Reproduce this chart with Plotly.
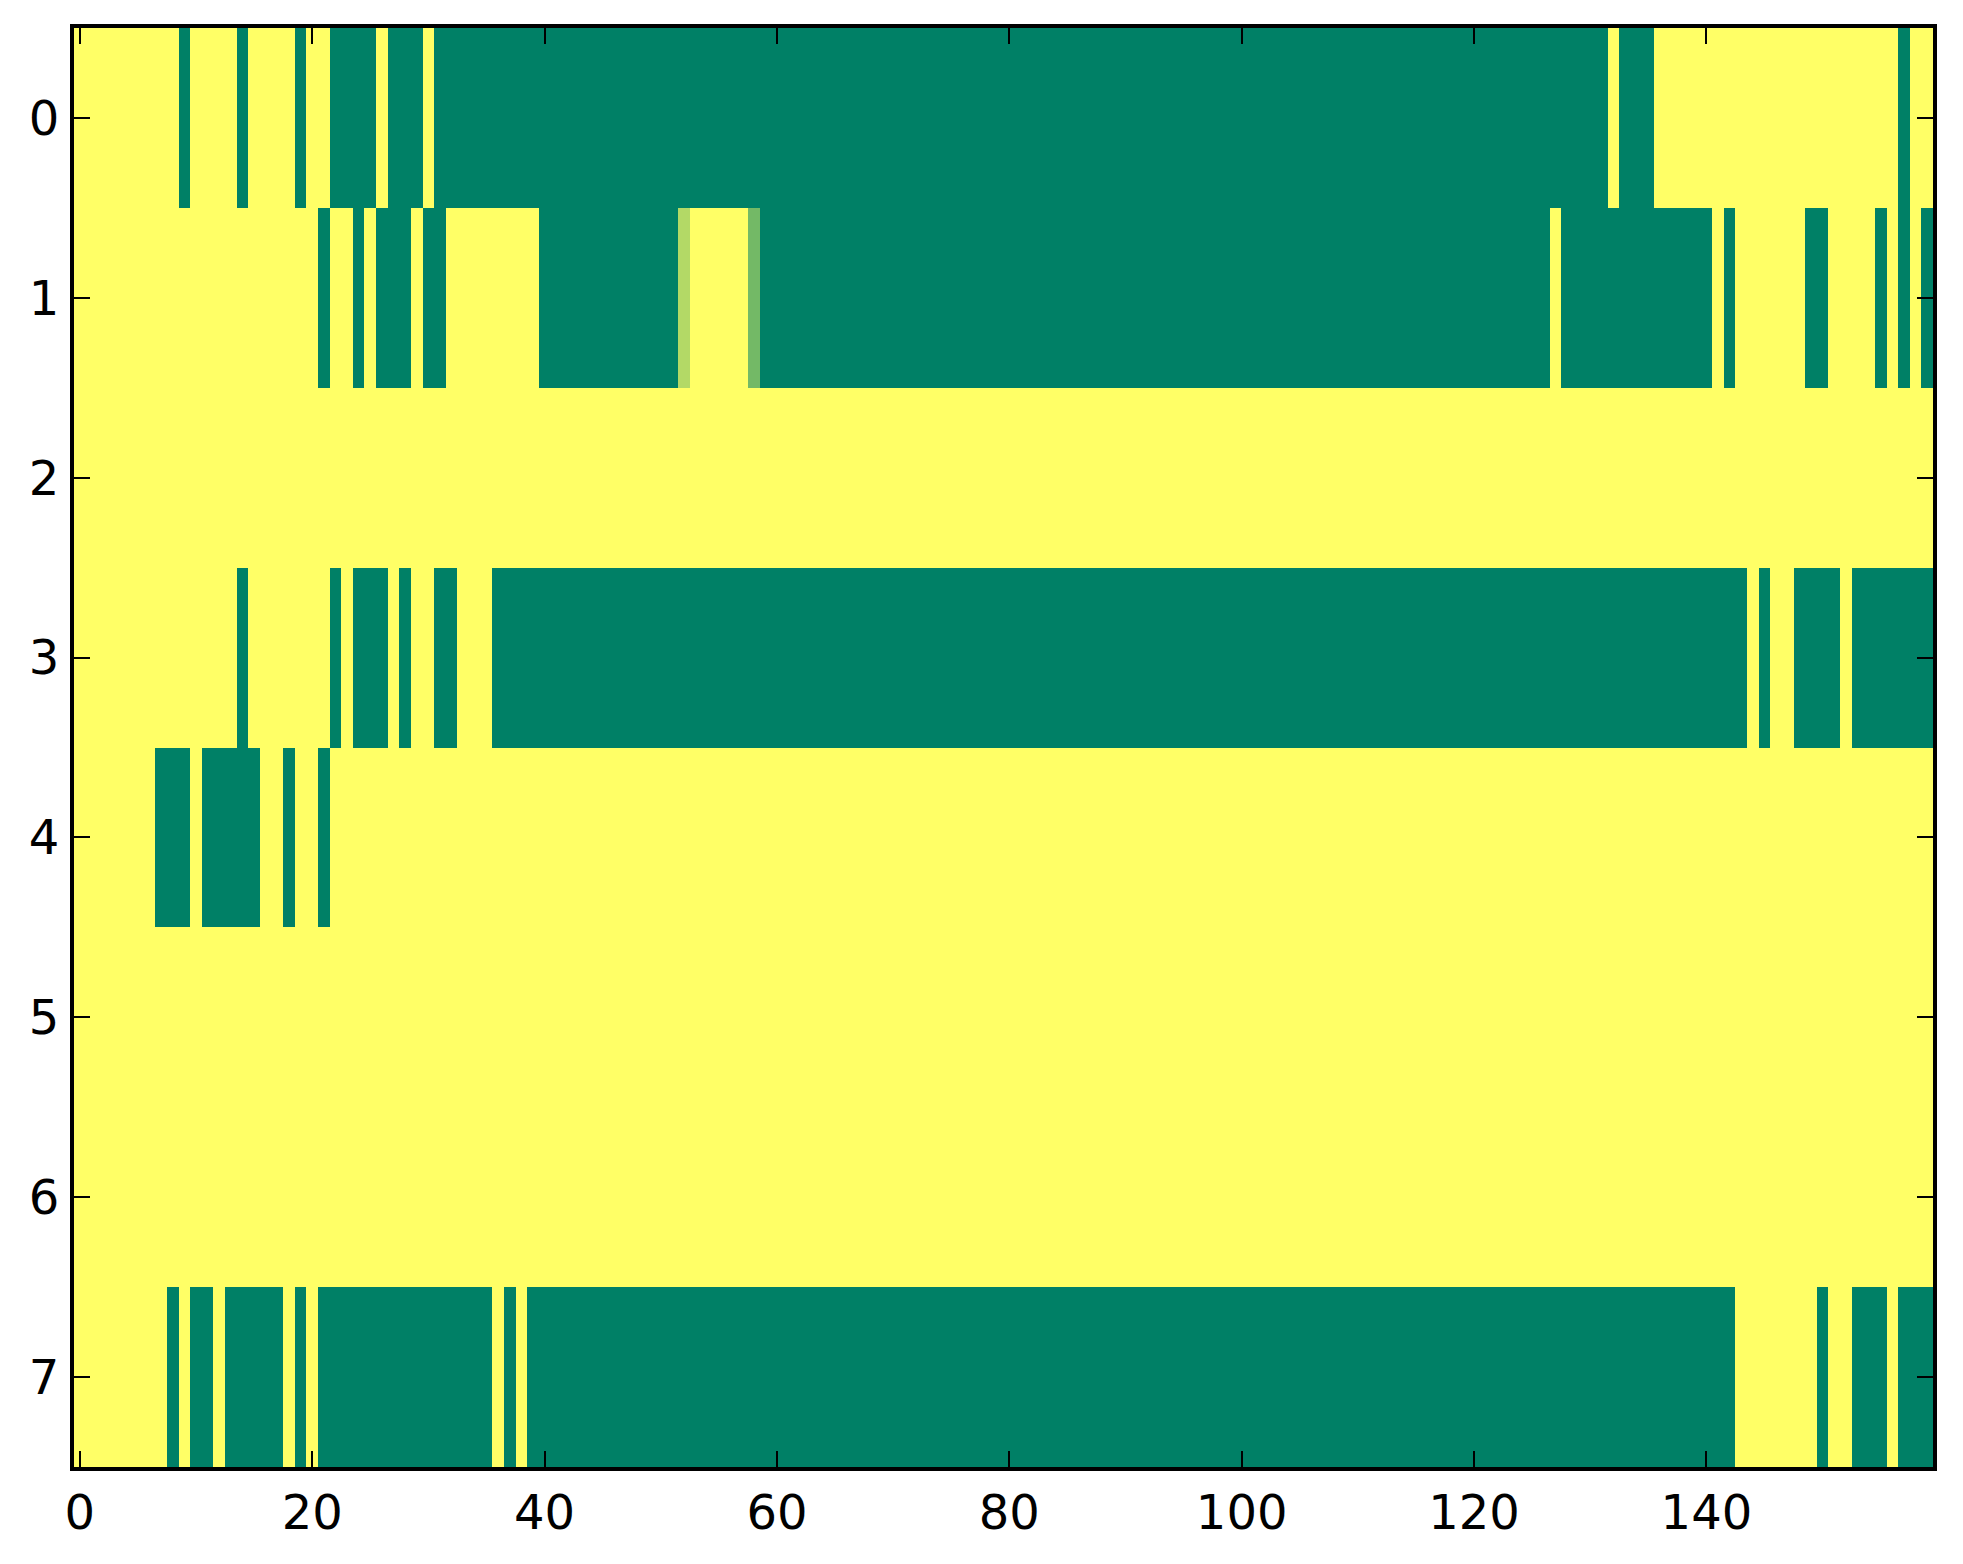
import plotly.graph_objects as go

# Run-length encoded rows: (run length, value) ; 1 = yellow, 0 = green
row0_runs = [(9, 1), (1, 0), (4, 1), (1, 0), (4, 1), (1, 0), (2, 1), (4, 0), (1, 1), (3, 0),
             (1, 1), (101, 0), (1, 1), (3, 0), (21, 1), (1, 0), (2, 1)]
row1_runs = [(21, 1), (1, 0), (2, 1), (1, 0), (1, 1), (3, 0), (1, 1), (2, 0), (8, 1), (12, 0),
             (1, 0.7), (5, 1), (1, 0.45), (68, 0), (1, 1), (13, 0), (1, 1), (1, 0), (6, 1),
             (2, 0), (4, 1), (1, 0), (1, 1), (1, 0), (1, 1), (1, 0)]
row2_runs = [(160, 1)]
row3_runs = [(14, 1), (1, 0), (7, 1), (1, 0), (1, 1), (3, 0), (1, 1), (1, 0), (2, 1), (2, 0),
             (3, 1), (108, 0), (1, 1), (1, 0), (2, 1), (4, 0), (1, 1), (7, 0)]
row4_runs = [(7, 1), (3, 0), (1, 1), (5, 0), (2, 1), (1, 0), (2, 1), (1, 0), (138, 1)]
row5_runs = [(160, 1)]
row6_runs = [(160, 1)]
row7_runs = [(8, 1), (1, 0), (1, 1), (2, 0), (1, 1), (5, 0), (1, 1), (1, 0), (1, 1), (15, 0),
             (1, 1), (1, 0), (1, 1), (104, 0), (7, 1), (1, 0), (2, 1), (3, 0), (1, 1), (3, 0)]

x_ticks = [0, 20, 40, 60, 80, 100, 120, 140]
y_ticks = [0, 1, 2, 3, 4, 5, 6, 7]

rows = [row0_runs, row1_runs, row2_runs, row3_runs, row4_runs, row5_runs, row6_runs, row7_runs]
z = []
for runs in rows:
    r = []
    for n, v in runs:
        r.extend([v] * n)
    z.append(r)

ncols = len(z[0])

fig = go.Figure(go.Heatmap(
    z=z,
    x=list(range(ncols)),
    y=list(range(len(z))),
    colorscale=[[0, '#008066'], [1, '#FFFF66']],
    zmin=0, zmax=1,
    showscale=False,
    hoverinfo='skip',
))

axis_common = dict(
    showline=True, mirror='ticks', linecolor='black', linewidth=4,
    ticks='inside', ticklen=16, tickwidth=2, tickcolor='black',
    showgrid=False, zeroline=False,
    tickfont=dict(family='DejaVu Sans', size=48, color='black'),
)

fig.update_xaxes(range=[-0.5, ncols - 0.5], tickvals=x_ticks, ticktext=[str(t) for t in x_ticks],
                 ticklabelstandoff=0, **axis_common)
fig.update_yaxes(range=[len(z) - 0.5, -0.5], tickvals=y_ticks, ticktext=[str(t) for t in y_ticks],
                 ticklabelstandoff=1, **axis_common)

fig.update_layout(
    width=1963, height=1564,
    margin=dict(l=66, r=38, t=20, b=105, pad=0),
    paper_bgcolor='white', plot_bgcolor='white',
)

fig.write_html("out.html")
